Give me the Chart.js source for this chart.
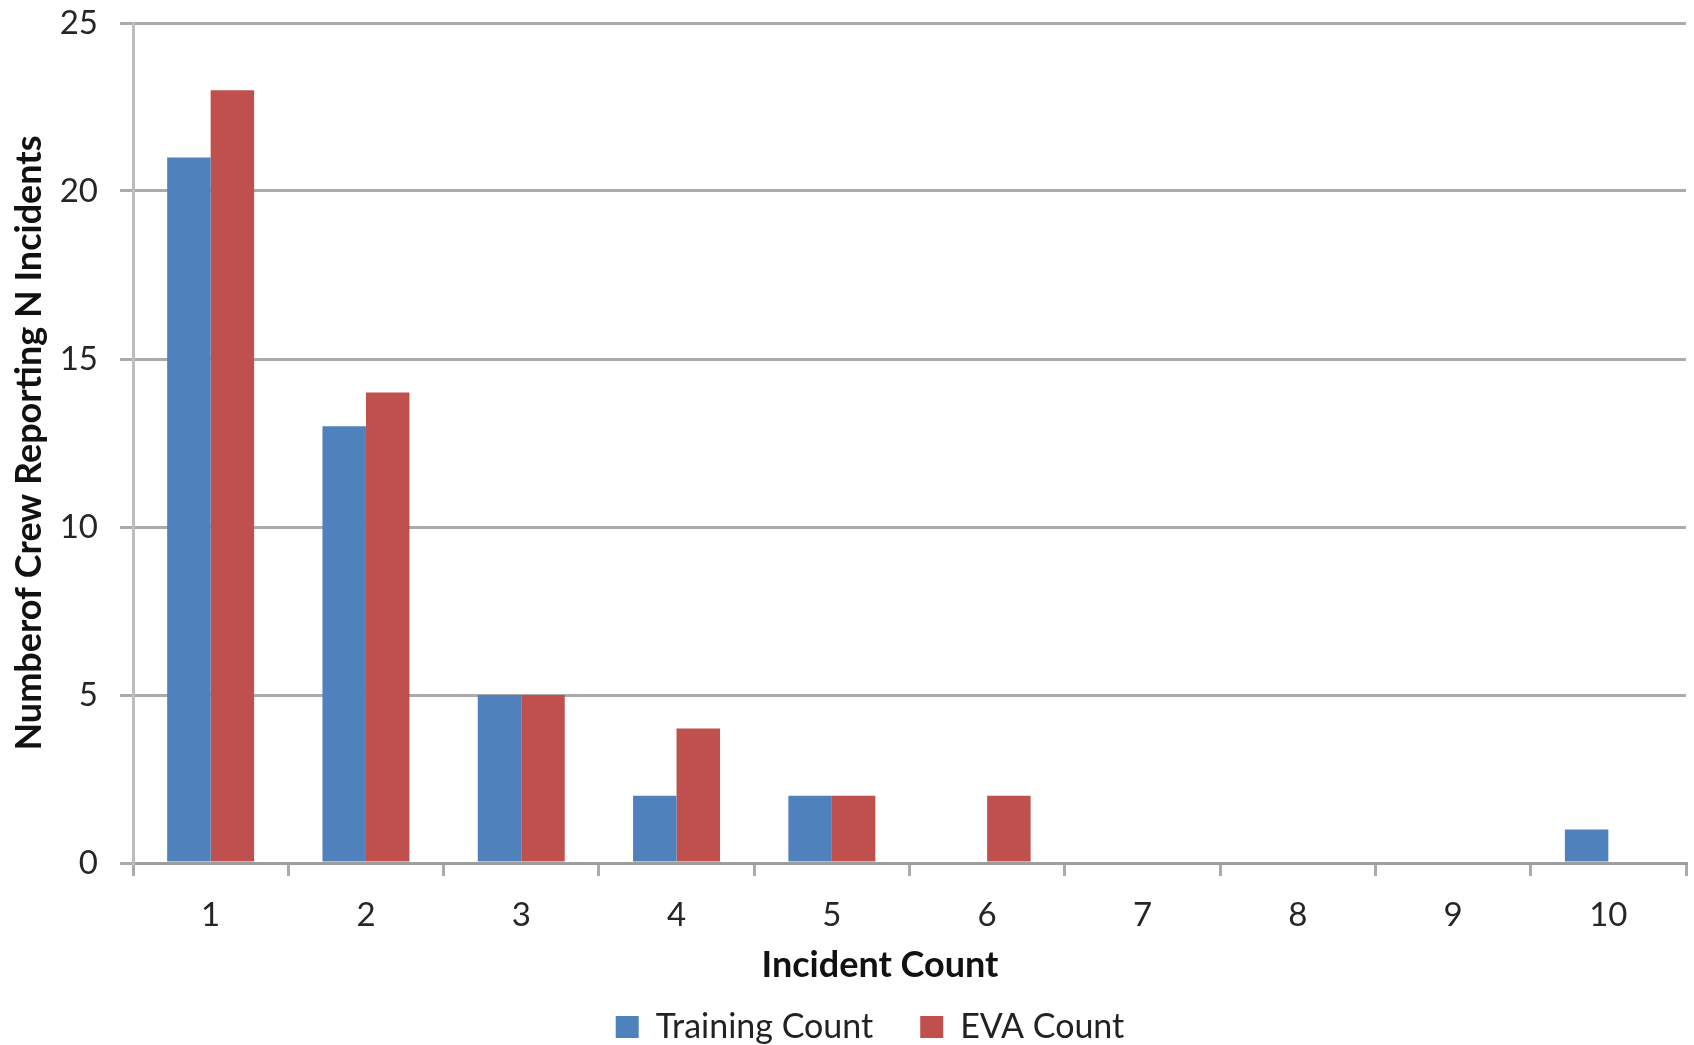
<!DOCTYPE html>
<html lang="en">
<head>
    <meta charset="UTF-8">
    <title>Incident Count</title>
    <style>
        html, body {
            margin: 0;
            padding: 0;
            background-color: #ffffff;
            overflow: hidden;
        }
        .chart-container {
            position: relative;
            width: 1694px;
            height: 1054px;
        }
    </style>
    <script src="https://cdn.jsdelivr.net/npm/chart.js"></script>
</head>
<body>
    <div class="chart-container">
        <canvas id="incidentChart"></canvas>
    </div>

    <script>
        // values
        const categories = ['1', '2', '3', '4', '5', '6', '7', '8', '9', '10'];
        const trainingCounts = [21, 13, 5, 2, 2, 0, 0, 0, 0, 1];
        const evaCounts = [23, 14, 5, 4, 2, 2, 0, 0, 0, 0];
        const yMax = 25;
        const yStep = 5;
        const xTitle = 'Incident Count';
        const yTitle = 'Numberof Crew Reporting N Incidents';

        const fontName = 'Lato, Carlito, "Liberation Sans", sans-serif';

        // the original centres the legend and x title a bit left of the plot middle
        const layoutTweaks = {
            id: 'layoutTweaks',
            afterLayout(chart) {
                chart.legend.left += 27;
                chart.legend.right += 27;
            },
            afterDraw(chart) {
                const c = chart.ctx;
                c.save();
                c.font = 'bold 36px ' + fontName;
                c.fillStyle = '#111111';
                c.textAlign = 'center';
                c.textBaseline = 'middle';
                c.fillText(xTitle, 880, 965);
                c.restore();
            }
        };

        const ctx = document.getElementById('incidentChart').getContext('2d');
        new Chart(ctx, {
            type: 'bar',
            data: {
                labels: categories,
                datasets: [
                    {
                        label: 'Training Count',
                        data: trainingCounts,
                        backgroundColor: '#4F81BD',
                        borderWidth: 0
                    },
                    {
                        label: 'EVA Count',
                        data: evaCounts,
                        backgroundColor: '#C0504D',
                        borderWidth: 0
                    }
                ]
            },
            plugins: [layoutTweaks],
            options: {
                responsive: true,
                maintainAspectRatio: false,
                animation: false,
                categoryPercentage: 0.56,
                barPercentage: 1.0,
                layout: {
                    padding: { top: 23, right: 8, left: 0, bottom: 0 }
                },
                plugins: {
                    tooltip: { enabled: false },
                    legend: {
                        position: 'bottom',
                        labels: {
                            boxWidth: 23,
                            boxHeight: 22,
                            padding: 47,
                            color: '#222222',
                            font: { family: fontName, size: 34 }
                        }
                    }
                },
                scales: {
                    x: {
                        afterFit(scale) {
                            scale.height = 100;
                        },
                        grid: {
                            offset: true,
                            drawOnChartArea: false,
                            drawTicks: true,
                            tickLength: 13,
                            color: '#ababab',
                            lineWidth: 3
                        },
                        border: { color: '#9d9d9d', width: 3 },
                        ticks: {
                            padding: 20,
                            color: '#262626',
                            font: { family: fontName, size: 33 }
                        },
                        title: { display: false }
                    },
                    y: {
                        min: 0,
                        max: yMax,
                        afterFit(scale) {
                            scale.width = 133;
                            scale.paddingTop = 0;
                        },
                        grid: {
                            drawTicks: true,
                            tickLength: 13,
                            color: '#ababab',
                            lineWidth: 3
                        },
                        border: { color: '#bdbdbd', width: 3 },
                        ticks: {
                            stepSize: yStep,
                            padding: 22,
                            color: '#262626',
                            font: { family: fontName, size: 33 }
                        },
                        title: {
                            display: true,
                            text: yTitle,
                            color: '#111111',
                            padding: { top: 8, bottom: 0 },
                            font: { family: fontName, size: 36, weight: 'bold' }
                        }
                    }
                }
            }
        });
    </script>
</body>
</html>
